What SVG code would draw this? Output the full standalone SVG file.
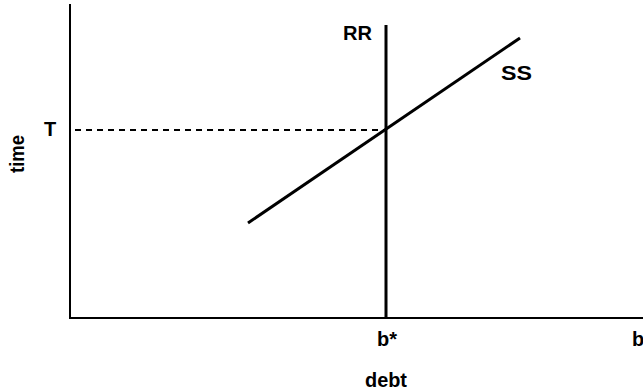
<svg xmlns="http://www.w3.org/2000/svg" width="643" height="391" viewBox="0 0 643 391">
<style>
.t{font-family:"Liberation Sans",Arial,sans-serif;font-size:20px;font-weight:bold;fill:#000}
.ax{stroke:#000;stroke-width:2;fill:none}
.ln{stroke:#000;stroke-width:3;fill:none}
</style>
<rect width="643" height="391" fill="#fff"/>
<g id="connectors">
<line id="y-axis" class="ax" x1="70" y1="4" x2="70" y2="319"/>
<line id="x-axis" class="ax" x1="69" y1="318" x2="643" y2="318"/>
<line id="dash-T" stroke="#000" stroke-width="1.8" stroke-dasharray="6,5" x1="75" y1="130" x2="386" y2="130"/>
<line id="RR-line" class="ln" x1="386" y1="25" x2="386" y2="318"/>
<line id="SS-line" class="ln" x1="248" y1="223" x2="520" y2="38"/>
</g>
<g id="label-RR"><text class="t" x="343" y="40" textLength="29" lengthAdjust="spacingAndGlyphs">RR</text></g>
<g id="label-SS"><text class="t" x="501" y="80" textLength="31" lengthAdjust="spacingAndGlyphs">SS</text></g>
<g id="label-T"><text class="t" x="44" y="136">T</text></g>
<g id="label-time"><text class="t" transform="translate(24,154) rotate(-90)" text-anchor="middle" textLength="38" lengthAdjust="spacingAndGlyphs">time</text></g>
<g id="label-bstar"><text class="t" x="377" y="346">b*</text></g>
<g id="label-b"><text class="t" x="632" y="346">b</text></g>
<g id="label-debt"><text class="t" x="365" y="387" textLength="42" lengthAdjust="spacingAndGlyphs">debt</text></g>
</svg>
